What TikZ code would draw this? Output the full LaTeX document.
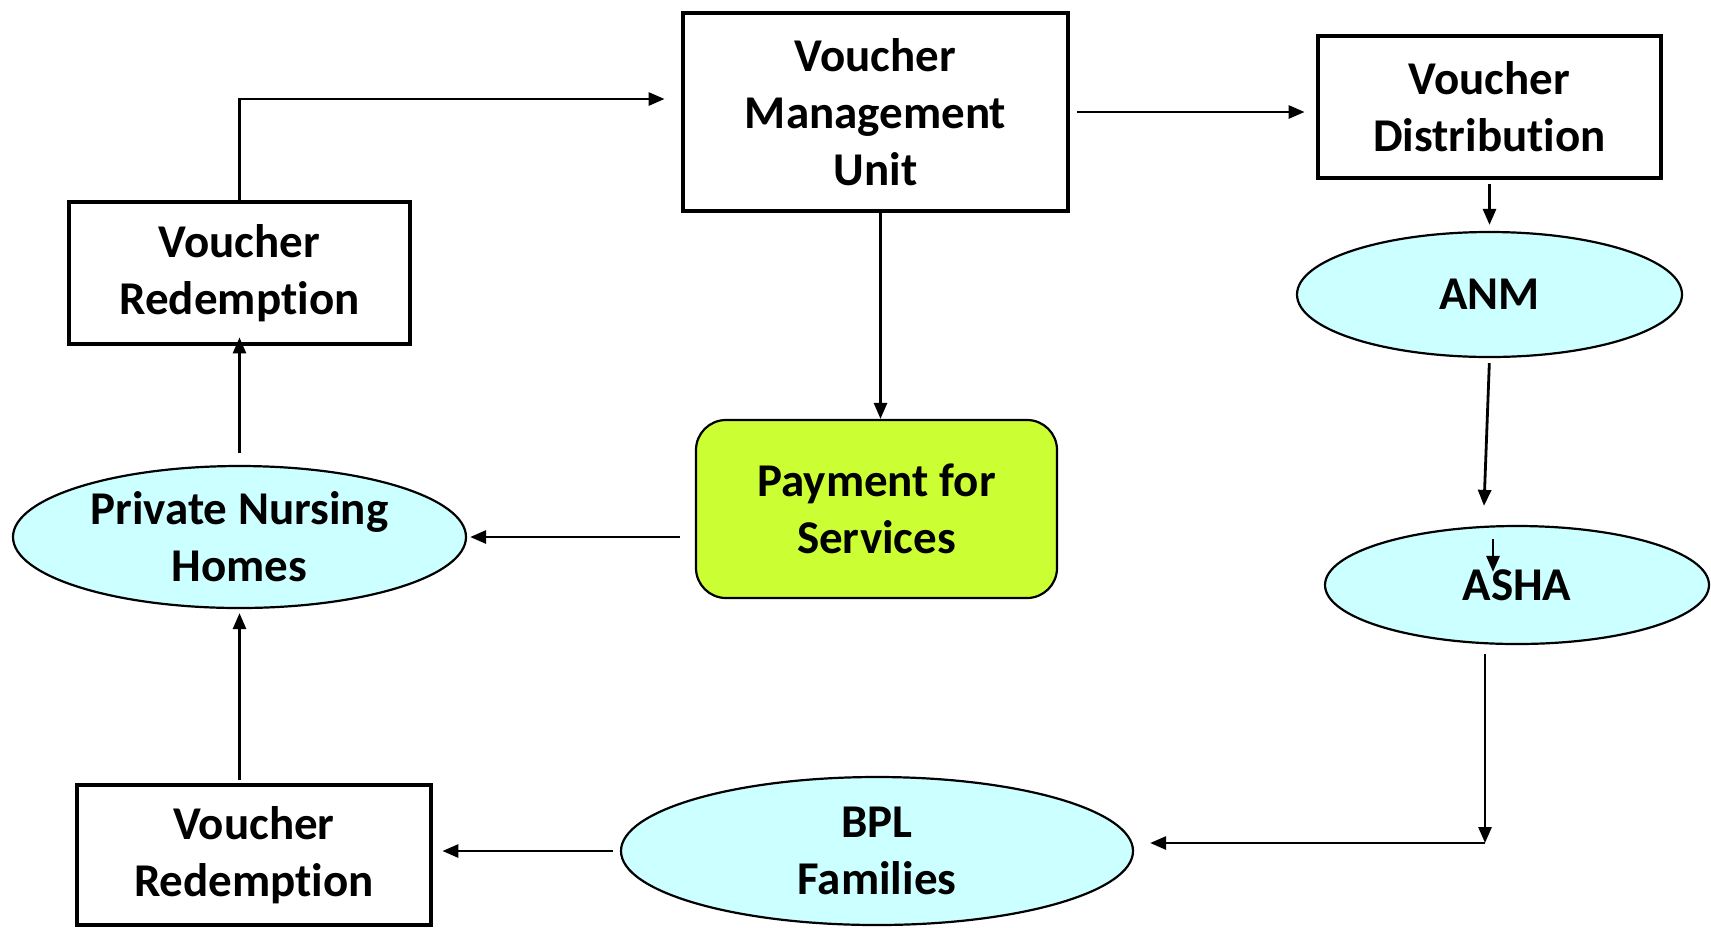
\documentclass[tikz,border=0pt]{standalone}
\usepackage{fontspec}
\setmainfont[Ligatures={NoCommon}]{Carlito}
\usepackage{tikz}
\usetikzlibrary{arrows.meta,positioning,calc,shapes.geometric}
\definecolor{agentfill}{HTML}{CCFFFF}
\definecolor{payfill}{HTML}{CCFF33}

\begin{document}
\begin{tikzpicture}[
      x=0.5pt, y=-0.5pt,
      box/.style={draw=black, fill=white, line width=2.4pt, align=center, inner sep=0pt, font=\fontsize{23.5pt}{28.5pt}\selectfont\bfseries},
      agent/.style={draw=black, fill=agentfill, ellipse, line width=1.1pt, align=center, inner sep=0pt, font=\fontsize{23.5pt}{28.5pt}\selectfont\bfseries},
      payment/.style={draw=black, fill=payfill, rounded corners=15pt, line width=1.1pt, align=center, inner sep=0pt, font=\fontsize{23.5pt}{28.5pt}\selectfont\bfseries},
      arr/.style={-{Triangle[length=8pt, width=6.5pt]}, line width=1.4pt, color=black}
  ]
      \useasboundingbox (0,0) rectangle (1711,927);

      % TOP ROW
      \node[box, minimum width=192.5pt, minimum height=99pt] (vmu) at (875.5, 112) {Voucher\\Management\\Unit};
      \node[box, minimum width=171.5pt, minimum height=71pt] (vd) at (1489.5, 107) {Voucher\\Distribution};
      \node[box, minimum width=170.5pt, minimum height=71pt] (vr1) at (239.5, 273) {Voucher\\Redemption};

      \draw[arr, shorten >=8pt] (vr1.north) |- ([yshift=6.5pt]vmu.west);
      \draw[arr, shorten <=3.5pt, shorten >=5.5pt] (vmu.east) -- (vmu.east -| vd.west);

      % RIGHT COLUMN
      \node[agent, minimum width=192.5pt, minimum height=62.5pt] (anm) at (1489.5, 294.5) {ANM};
      \node[agent, minimum width=192pt, minimum height=59pt] (asha) at (1517, 585) {ASHA};
      \coordinate (turn) at (1485, 843);

      \draw[arr, shorten <=2pt, shorten >=3pt] (vd.south) -- (anm.north);
      \draw[arr, shorten <=2.5pt] (anm.south) -- ([shift={(-16.5pt, 9.5pt)}]asha.north);
      \draw[arr] ([shift={(-12pt, -7pt)}]asha.north) -- ++(0, 33);
      \draw[arr] ([shift={(-16pt, -4.5pt)}]asha.south) -- (turn);

      % MIDDLE
      \node[payment, minimum width=180.5pt, minimum height=89pt] (pay) at (876.5, 509) {Payment for\\Services};
      \node[agent, minimum width=226.5pt, minimum height=71pt] (pnh) at (239.5, 537) {Private Nursing\\Homes};

      \draw[arr] ([xshift=2.5pt]vmu.south) -- ([xshift=2.5pt]vmu.south |- pay.north);
      \draw[arr, shorten >=1.5pt] ([xshift=-7.5pt]pay.west |- pnh.east) -- (pnh.east);
      \draw[arr, shorten <=6pt, shorten >=-4.5pt] (pnh.north) -- (vr1.south);

      % BOTTOM ROW
      \node[agent, minimum width=256pt, minimum height=74pt] (bpl) at (877, 851) {BPL\\Families};
      \node[box, minimum width=177pt, minimum height=70pt] (vr2) at (254, 855) {Voucher\\Redemption};

      \draw[arr, shorten >=8pt] (turn) -- (bpl.east |- turn);
      \draw[arr, shorten <=3.5pt, shorten >=4.5pt] (bpl.west) -- (bpl.west -| vr2.east);
      \draw[arr, shorten <=1.5pt, shorten >=2pt] (pnh.south |- vr2.north) -- (pnh.south);
  \end{tikzpicture}
\end{document}
